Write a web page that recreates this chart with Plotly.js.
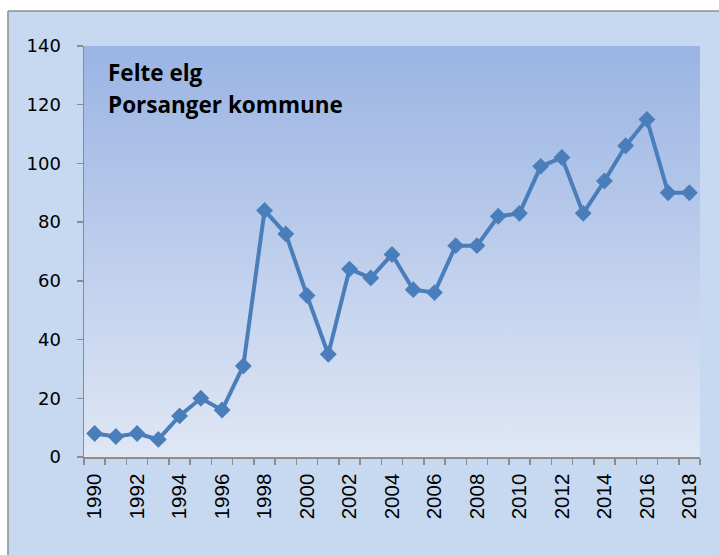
<!DOCTYPE html>
<html>
<head>
<meta charset="utf-8">
<script src="https://cdn.plot.ly/plotly-3.0.1.min.js"></script>
<style>html,body{margin:0;padding:0;background:#fff;}#chart{width:719px;height:555px;}</style>
</head>
<body>
<div id="chart"></div>
<script>
// Data: moose shot (Felte elg), Porsanger kommune
const years = [1990,1991,1992,1993,1994,1995,1996,1997,1998,1999,2000,2001,2002,2003,2004,2005,2006,2007,2008,2009,2010,2011,2012,2013,2014,2015,2016,2017,2018];
const felteElg = [8,7,8,6,14,20,16,31,84,76,55,35,64,61,69,57,56,72,72,82,83,99,102,83,94,106,115,90,90];
const xTickVals = [1990,1992,1994,1996,1998,2000,2002,2004,2006,2008,2010,2012,2014,2016,2018];
const xTickText = ['1990','1992','1994','1996','1998','2000','2002','2004','2006','2008','2010','2012','2014','2016','2018'];
const yTickVals = [0,20,40,60,80,100,120,140];
const titleLines = ['Felte elg','Porsanger kommune'];

const gradSvg = "<svg xmlns='http://www.w3.org/2000/svg' width='100' height='100' preserveAspectRatio='none'>" +
  "<defs><linearGradient id='g' x1='0' y1='0' x2='0' y2='1'>" +
  "<stop offset='0' stop-color='#9AB4E3'/><stop offset='1' stop-color='#E0E7F5'/>" +
  "</linearGradient></defs><rect width='100' height='100' fill='url(#g)'/></svg>";
const gradUri = 'data:image/svg+xml;charset=utf-8,' + encodeURIComponent(gradSvg);

const trace = {
  x: years,
  y: felteElg,
  type: 'scatter',
  mode: 'lines+markers',
  line: {color: '#4A7EBB', width: 4},
  marker: {symbol: 'diamond', size: 13, color: '#4A7EBB'},
  hoverinfo: 'x+y',
  showlegend: false
};

const axisColor = '#8C8C8C';
const titleFont = {family: 'Open Sans, sans-serif', size: 22.5, color: '#000'};
const layout = {
  width: 719, height: 555,
  margin: {l: 84, r: 19, t: 46, b: 98, pad: 0},
  paper_bgcolor: '#C6D9F1',
  plot_bgcolor: 'rgba(0,0,0,0)',
  xaxis: {
    range: [years[0] - 0.5, years[years.length - 1] + 0.5],
    tickvals: xTickVals, ticktext: xTickText,
    ticks: '', tickangle: -90,
    showline: true, linecolor: axisColor, linewidth: 1.5,
    showgrid: false, zeroline: false,
    ticklabelstandoff: 7,
    tickfont: {family: 'Liberation Sans Narrow, Liberation Sans, sans-serif', size: 20.5, color: '#000'},
    minor: {tick0: 1989.5, dtick: 1, ticks: 'outside', ticklen: 6, tickcolor: axisColor, tickwidth: 1.5, showgrid: false}
  },
  yaxis: {
    range: [0, 140],
    tickvals: yTickVals,
    ticks: 'outside', ticklen: 6, tickcolor: axisColor, tickwidth: 1.5,
    showline: true, linecolor: axisColor, linewidth: 1.5,
    showgrid: false, zeroline: false,
    ticklabelstandoff: 12,
    tickfont: {family: 'DejaVu Sans, sans-serif', size: 18, color: '#000'}
  },
  images: [{
    source: gradUri, xref: 'paper', yref: 'paper',
    x: 0, y: 1, sizex: 1, sizey: 1, xanchor: 'left', yanchor: 'top',
    sizing: 'stretch', layer: 'below'
  }],
  shapes: [
    {type: 'rect', xref: 'paper', yref: 'paper', x0: -0.2, x1: 1.1, y0: 1.0852, y1: 1.2, fillcolor: '#FFFFFF', line: {width: 0}, layer: 'below'},
    {type: 'rect', xref: 'paper', yref: 'paper', x0: -0.2, x1: -0.1234, y0: -0.3, y1: 1.2, fillcolor: '#FFFFFF', line: {width: 0}, layer: 'below'},
    {type: 'line', xref: 'paper', yref: 'paper', x0: -0.1234, x1: 1.1, y0: 1.0852, y1: 1.0852, line: {color: '#8E8E8E', width: 1.5}},
    {type: 'line', xref: 'paper', yref: 'paper', x0: -0.1234, x1: -0.1234, y0: -0.3, y1: 1.0852, line: {color: '#8E8E8E', width: 1.5}}
  ],
  annotations: [
    {xref: 'paper', yref: 'paper', x: 0.035, y: 0.978, xanchor: 'left', yanchor: 'top',
     align: 'left', showarrow: false, text: '<b>' + titleLines[0] + '</b>', font: titleFont},
    {xref: 'paper', yref: 'paper', x: 0.035, y: 0.900, xanchor: 'left', yanchor: 'top',
     align: 'left', showarrow: false, text: '<b>' + titleLines[1] + '</b>', font: titleFont}
  ]
};

Plotly.newPlot('chart', [trace], layout, {displayModeBar: false, staticPlot: true});
</script>
</body>
</html>
